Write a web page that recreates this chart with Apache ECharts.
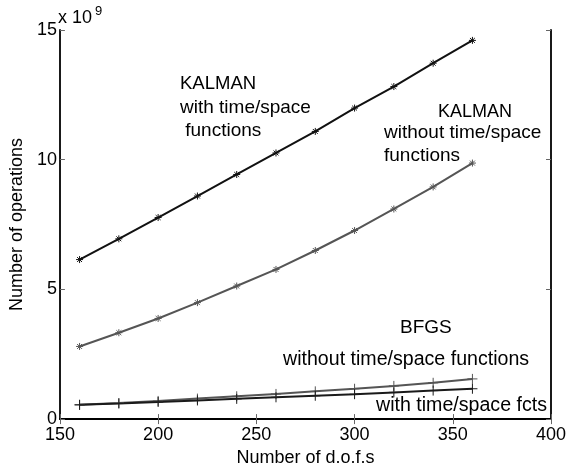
<!DOCTYPE html>
<html>
<head>
<meta charset="utf-8">
<script src="https://cdn.jsdelivr.net/npm/echarts@6/dist/echarts.min.js"></script>
<style>html,body{margin:0;padding:0;background:#fff}#c{width:570px;height:472px}</style>
</head>
<body>
<div id="c"></div>
<script>
const dofs = [160, 180, 200, 220, 240, 260, 280, 300, 320, 340, 360];
const kalmanWith = [6.15, 6.95, 7.77, 8.6, 9.43, 10.26, 11.09, 11.99, 12.82, 13.72, 14.6];
const kalmanWithout = [2.8, 3.33, 3.88, 4.49, 5.13, 5.77, 6.5, 7.27, 8.1, 8.95, 9.87];
const bfgsWithout = [0.55, 0.62, 0.7, 0.79, 0.88, 0.97, 1.07, 1.17, 1.28, 1.4, 1.55];
const bfgsWith = [0.55, 0.6, 0.66, 0.72, 0.78, 0.84, 0.9, 0.96, 1.03, 1.1, 1.17];
const xTicks = [150, 200, 250, 300, 350, 400];
const yTicks = [0, 5, 10, 15];

const FONT = '"Liberation Sans", Arial, Helvetica, sans-serif';
const STAR = 'path://M5,0L5,10M0,5L10,5M1.5,1.5L8.5,8.5M1.5,8.5L8.5,1.5';
const PLUS = 'path://M5,0L5,10M0,5L10,5';

function pairs(ys) { return dofs.map((x, i) => [x, ys[i]]); }
function ser(ys, color, sym, size) {
  return {
    type: 'line', data: pairs(ys), symbol: sym, symbolSize: size,
    lineStyle: { color: color, width: 2 },
    itemStyle: { color: color, borderColor: color, borderWidth: 1 },
    emphasis: { disabled: true }, animation: false, z: 3
  };
}

const axisLine = { show: true, lineStyle: { color: '#000', width: 1.8 } };
const tickIn = { show: true, inside: true, length: 5, lineStyle: { color: '#666', width: 1 } };
const lbl = { fontFamily: FONT, fontSize: 18, color: '#000' };
const T = '19px ' + FONT;

const chart = echarts.init(document.getElementById('c'), null, { renderer: 'canvas' });
chart.setOption({
  animation: false,
  grid: { left: 57, right: 19, top: 30, bottom: 51, containLabel: false },
  xAxis: [
    { type: 'value', min: xTicks[0], max: xTicks[xTicks.length - 1], interval: 50, position: 'bottom',
      axisLine: axisLine, axisTick: tickIn, splitLine: { show: false },
      axisLabel: Object.assign({ margin: 7 }, lbl),
      name: 'Number of d.o.f.s', nameLocation: 'middle', nameGap: 29,
      nameTextStyle: { fontFamily: FONT, fontSize: 18, color: '#000' } },
    { type: 'value', min: xTicks[0], max: xTicks[xTicks.length - 1], interval: 50, position: 'top',
      axisLine: axisLine, axisTick: tickIn, axisLabel: { show: false }, splitLine: { show: false } }
  ],
  yAxis: [
    { type: 'value', min: yTicks[0], max: yTicks[yTicks.length - 1], interval: 5, position: 'left',
      axisLine: axisLine, axisTick: tickIn, splitLine: { show: false },
      axisLabel: Object.assign({ margin: 3 }, lbl),
      name: 'Number of operations', nameLocation: 'middle', nameGap: 29,
      nameTextStyle: { fontFamily: FONT, fontSize: 18, color: '#000' } },
    { type: 'value', min: yTicks[0], max: yTicks[yTicks.length - 1], interval: 5, position: 'right',
      axisLine: axisLine, axisTick: tickIn, axisLabel: { show: false }, splitLine: { show: false } }
  ],
  series: [
    ser(kalmanWith, '#111111', STAR, 7),
    ser(kalmanWithout, '#555555', STAR, 7),
    ser(bfgsWithout, '#555555', PLUS, 10),
    ser(bfgsWith, '#1a1a1a', PLUS, 10)
  ],
  graphic: [
    { type: 'text', x: 58, y: 18, style: { text: '{a|x 10}{b|9}', verticalAlign: 'middle',
      rich: { a: { fontFamily: FONT, fontSize: 18, fill: '#000' }, b: { fontFamily: FONT, fontSize: 13, fill: '#000', verticalAlign: 'top', padding: [0, 0, 14, 3] } } } },
    { type: 'text', x: 180, y: 84, style: { text: 'KALMAN', font: '18.5px ' + FONT, fill: '#000', verticalAlign: 'middle' } },
    { type: 'text', x: 180, y: 108, style: { text: 'with time/space', font: T, fill: '#000', verticalAlign: 'middle' } },
    { type: 'text', x: 180, y: 131, style: { text: ' functions', font: T, fill: '#000', verticalAlign: 'middle' } },
    { type: 'text', x: 438, y: 112, style: { text: 'KALMAN', font: '18px ' + FONT, fill: '#000', verticalAlign: 'middle' } },
    { type: 'text', x: 384, y: 133, style: { text: 'without time/space', font: T, fill: '#000', verticalAlign: 'middle' } },
    { type: 'text', x: 384, y: 156, style: { text: 'functions', font: T, fill: '#000', verticalAlign: 'middle' } },
    { type: 'text', x: 400, y: 328, style: { text: 'BFGS', font: '19px ' + FONT, fill: '#000', verticalAlign: 'middle' } },
    { type: 'text', x: 283, y: 360, style: { text: 'without time/space functions', font: '19.6px ' + FONT, fill: '#000', verticalAlign: 'middle' } },
    { type: 'text', x: 376, y: 406, style: { text: 'with time/space fcts', font: '19.6px ' + FONT, fill: '#000', verticalAlign: 'middle' } }
  ]
});
</script>
</body>
</html>
